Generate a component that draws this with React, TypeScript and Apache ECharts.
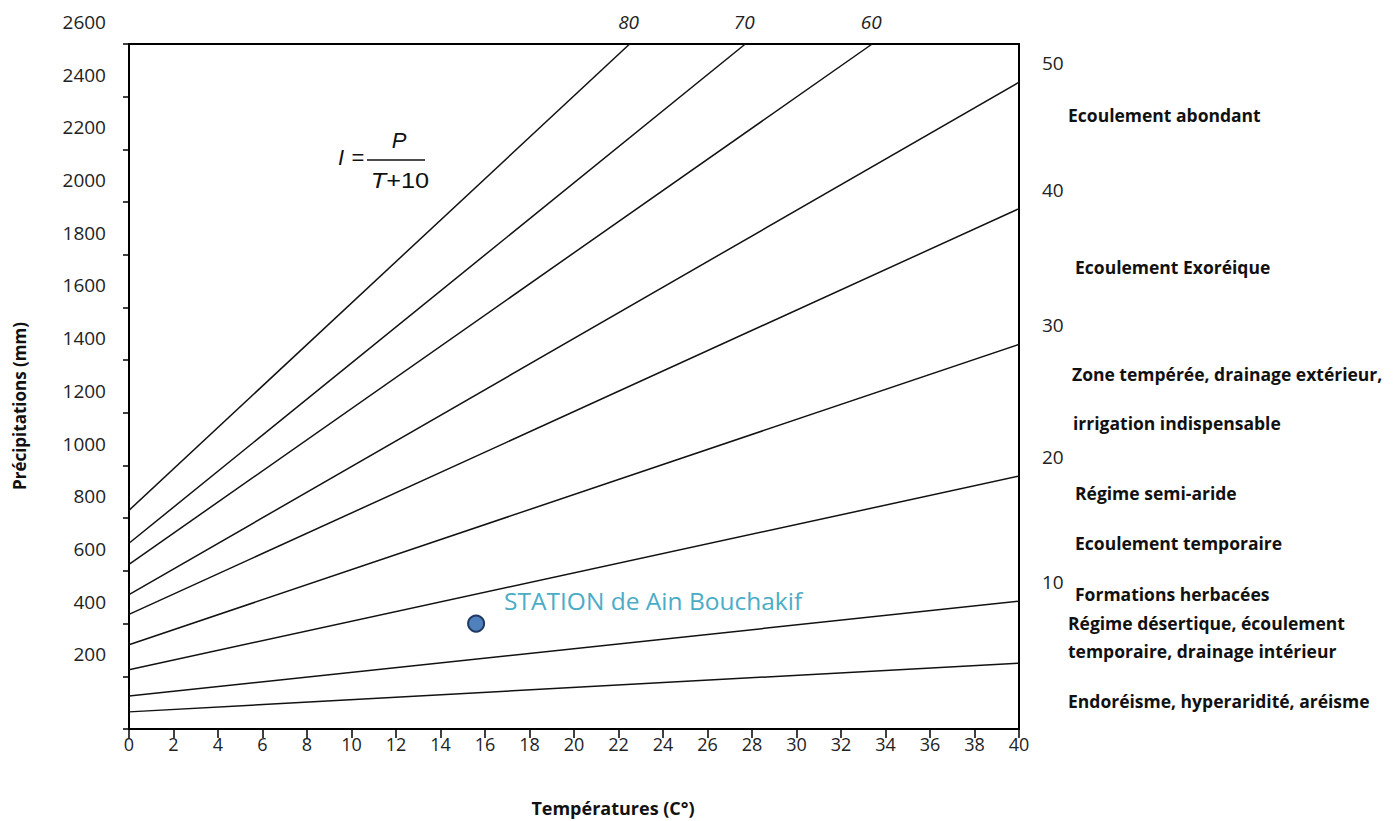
import React, { useEffect, useRef } from "react";
import * as echarts from "echarts";

// ---- Data ----
// Aridity index lines (De Martonne): I = P / (T + 10)
const indexValues = [5, 10, 20, 30, 40, 50, 60, 70, 80];
const precipAtZero = [65, 125, 225, 320, 435, 510, 625, 705, 830]; // P (mm) at T = 0
const lineEndTemp = [40, 40, 40, 40, 40, 40, 33.4, 27.7, 22.5]; // T (°C) where each line ends
const lineEndPrecip = [250, 485, 960, 1460, 1975, 2455, 2600, 2600, 2600]; // P (mm) where each line ends
const labeledIndices = [10, 20, 30, 40, 50, 60, 70, 80];
const topLabeledIndices = [60, 70, 80];

const stationName = "STATION de Ain Bouchakif";
const stationTemp = 15.6;
const stationPrecip = 400;

const xTitle = "Températures (C°)";
const yTitle = "Précipitations (mm)";

const zoneTexts = [
  "Ecoulement abondant",
  "Ecoulement Exoréique",
  "Zone tempérée, drainage extérieur,",
  "irrigation indispensable",
  "Régime semi-aride",
  "Ecoulement temporaire",
  "Formations herbacées",
  "Régime désertique, écoulement",
  "temporaire, drainage intérieur",
  "Endoréisme, hyperaridité, aréisme",
];

// ---- Layout (pixel positions of free annotations) ----
const zoneLayout: [number, number][] = [
  [1068, 115],
  [1075, 267],
  [1072, 374],
  [1073, 423],
  [1075, 493],
  [1075, 543],
  [1075, 594],
  [1068, 623],
  [1068, 651],
  [1068, 701],
];

const FONT = "'Open Sans', sans-serif";
const MATH_FONT = "'Liberation Sans', Arial, sans-serif";
const TEXT_COLOR = "#222";

export default function App() {
  const ref = useRef<HTMLDivElement>(null);

  useEffect(() => {
    if (!ref.current) return;
    const chart = echarts.init(ref.current, undefined, { renderer: "svg" });

    const lineSeries = indexValues.map((I, k) => ({
      type: "line",
      name: "I=" + I,
      data: [
        [0, precipAtZero[k]],
        [lineEndTemp[k], lineEndPrecip[k]],
      ],
      symbol: "none",
      showSymbol: false,
      silent: true,
      lineStyle: { color: "#111", width: 1.5 },
      z: 2,
    }));

    const baseGraphic: any[] = [
      // axis titles
      {
        type: "text",
        x: 613,
        y: 808,
        style: {
          text: xTitle,
          font: "bold 18px " + FONT,
          fill: "#111",
          align: "center",
          verticalAlign: "middle",
        },
      },
      {
        type: "text",
        x: 19,
        y: 406,
        rotation: Math.PI / 2,
        style: {
          text: yTitle,
          font: "bold 17px " + FONT,
          fill: "#111",
          align: "center",
          verticalAlign: "middle",
        },
      },
      // formula I = P / (T + 10)
      {
        type: "text",
        x: 338,
        y: 157,
        style: {
          text: "I",
          font: "italic 22px " + MATH_FONT,
          fill: "#111",
          align: "left",
          verticalAlign: "middle",
        },
      },
      {
        type: "text",
        x: 358,
        y: 157,
        style: {
          text: "=",
          font: "22px " + MATH_FONT,
          fill: "#111",
          align: "center",
          verticalAlign: "middle",
        },
      },
      {
        type: "line",
        shape: { x1: 367, y1: 160, x2: 425, y2: 160 },
        style: { stroke: "#111", lineWidth: 1.5 },
      },
      {
        type: "text",
        x: 399,
        y: 140,
        style: {
          text: "P",
          font: "italic 22px " + MATH_FONT,
          fill: "#111",
          align: "center",
          verticalAlign: "middle",
        },
      },
      {
        type: "text",
        x: 400,
        y: 181,
        scaleX: 1.15,
        style: {
          text: "{i|T}+10",
          font: "22px " + MATH_FONT,
          fill: "#111",
          align: "center",
          verticalAlign: "middle",
          rich: {
            i: { fontStyle: "italic", fontSize: 22, fontFamily: MATH_FONT, fill: "#111" },
          },
        },
      },
      // zone descriptions
      ...zoneTexts.map((t, i) => ({
        type: "text",
        x: zoneLayout[i][0],
        y: zoneLayout[i][1],
        style: {
          text: t,
          font: "bold 17.5px " + FONT,
          fill: "#111",
          align: "left",
          verticalAlign: "middle",
        },
      })),
    ];

    const option: any = {
      animation: false,
      textStyle: { fontFamily: FONT },
      grid: {
        left: 129,
        right: 381,
        top: 40,
        bottom: 92,
        show: true,
        borderColor: "#000",
        borderWidth: 2,
        containLabel: false,
      },
      xAxis: {
        type: "value",
        min: 0,
        max: 40,
        interval: 2,
        axisLine: { show: true, lineStyle: { color: "#000", width: 2 } },
        axisTick: { show: true, inside: false, length: 9, lineStyle: { color: "#000", width: 1.5 } },
        axisLabel: { fontSize: 18, color: TEXT_COLOR, margin: 6, fontFamily: FONT },
        splitLine: { show: false },
      },
      yAxis: {
        type: "value",
        min: 0,
        max: 2600,
        interval: 200,
        axisLine: { show: true, lineStyle: { color: "#000", width: 2 } },
        axisTick: { show: true, inside: false, length: 6, lineStyle: { color: "#000", width: 1.5 } },
        axisLabel: {
          fontSize: 19,
          color: TEXT_COLOR,
          margin: 23,
          fontFamily: FONT,
          verticalAlign: "bottom",
          lineHeight: 44,
          formatter: (v: number) => (v === 0 ? "" : String(v)),
        },
        splitLine: { show: false },
      },
      series: [
        ...lineSeries,
        {
          type: "scatter",
          name: stationName,
          data: [{ name: stationName, value: [stationTemp, stationPrecip] }],
          symbol: "circle",
          symbolSize: 16,
          itemStyle: { color: "#4f81bd", borderColor: "#1f3864", borderWidth: 2, opacity: 1 },
          label: {
            show: true,
            formatter: "{b}",
            position: "right",
            distance: 19,
            offset: [0, -23],
            fontSize: 24.5,
            color: "#4bacc6",
            fontFamily: FONT,
          },
          z: 5,
        },
      ],
      graphic: baseGraphic,
    };

    chart.setOption(option);

    // Index labels placed at the line ends, located through the chart's own scales
    const indexLabels = labeledIndices.map((I) => {
      const k = indexValues.indexOf(I);
      const pt = chart.convertToPixel({ gridIndex: 0 }, [lineEndTemp[k], lineEndPrecip[k]]) as number[];
      const isTop = topLabeledIndices.indexOf(I) >= 0;
      return isTop
        ? {
            type: "text",
            x: pt[0] - 1,
            y: pt[1] - 22,
            style: {
              text: String(I),
              font: "italic 19px " + FONT,
              fill: TEXT_COLOR,
              align: "center",
              verticalAlign: "middle",
            },
          }
        : {
            type: "text",
            x: pt[0] + 23,
            y: pt[1] - 19,
            style: {
              text: String(I),
              font: "19px " + FONT,
              fill: TEXT_COLOR,
              align: "left",
              verticalAlign: "middle",
            },
          };
    });

    chart.setOption({ graphic: [...baseGraphic, ...indexLabels] });

    return () => chart.dispose();
  }, []);

  return (
    <div
      ref={ref}
      style={{ position: "absolute", left: 0, top: 0, width: 1400, height: 821 }}
    />
  );
}
